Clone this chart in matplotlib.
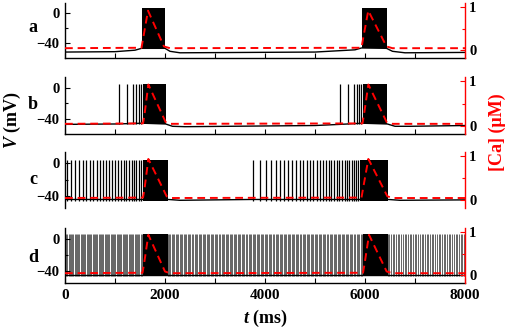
import matplotlib
matplotlib.use('Agg')
import matplotlib.pyplot as plt
import numpy as np

plt.rcParams['font.family'] = ['Liberation Serif', 'DejaVu Serif']
plt.rcParams['font.weight'] = 'bold'
plt.rcParams['mathtext.fontset'] = 'custom'
plt.rcParams['mathtext.rm'] = 'Liberation Serif:bold'
plt.rcParams['mathtext.it'] = 'Liberation Serif:italic:bold'
plt.rcParams['mathtext.bf'] = 'Liberation Serif:bold'

# ----------------------------------------------------------------
# Data (t in ms, V in mV, Ca in uM)
# ----------------------------------------------------------------
panel_names = ['a', 'b', 'c', 'd']

# resting / trough potential between spikes
a_rest_t = [0, 1000, 1400, 1530, 2000, 2100, 2300, 5000, 5800, 5930, 6430, 6550, 6800, 8000]
a_rest_v = [-52, -51.5, -49.5, -47, -47, -51, -53, -52, -49, -46.5, -47, -51, -53, -52.5]
b_rest_t = [0, 1000, 1560, 2013, 2150, 2400, 5000, 5500, 5950, 6447, 6600, 6900, 8000]
b_rest_v = [-47.5, -47, -46, -47, -50, -50.5, -49, -47.5, -46, -47, -50, -50, -49]
c_rest_t = [0, 1560, 2067, 2300, 3700, 5900, 6467, 6700, 8000]
c_rest_v = [-44.5, -44.5, -44.5, -45.5, -44.5, -44.5, -44.5, -45.5, -45]
d_rest_t = [0, 8000]
d_rest_v = [-44.5, -44.5]

# single spikes (times)
a_spikes = []
b_spikes = [1080, 1240, 1360, 1427, 1480, 1520,
            5500, 5653, 5773, 5833, 5887, 5920]
c_spikes = [33, 120, 200, 280, 353, 427, 500, 567, 633, 700, 767, 827, 887, 947,
            1007, 1067, 1120, 1173, 1227, 1280, 1333, 1380, 1427, 1473, 1520,
            3750, 3900, 4020, 4120, 4213, 4300, 4387, 4467, 4547, 4620, 4693,
            4767, 4833, 4900, 4967, 5033, 5093, 5153, 5213, 5273, 5327, 5380,
            5433, 5487, 5540, 5593, 5640, 5687, 5733, 5780, 5820, 5860]
d_spikes = []
# tonic firing in d: (start, end, interspike interval)
d_trains = [(0, 1550, 24), (2050, 5960, 27), (6450, 8000, 34)]

# bursts (start, end)
a_bursts = [(1530, 2000), (5930, 6430)]
b_bursts = [(1567, 2013), (5953, 6447)]
c_bursts = [(1560, 2067), (5895, 6467)]
d_bursts = [(1550, 2050), (5960, 6450)]

spike_peak = [7, 5, 4, 5]
spike_trough = [-46.5, -47.5, -46, -46]

# calcium concentration
a_ca_t = [0, 1530, 1560, 1660, 1980, 2100, 5930, 5960, 6065, 6430, 6550, 8000]
a_ca = [0.04, 0.05, 0.25, 0.92, 0.08, 0.04, 0.05, 0.25, 0.92, 0.08, 0.04, 0.04]
b_ca_t = [0, 1560, 1590, 1667, 2013, 2100, 5950, 5980, 6067, 6433, 6550, 8000]
b_ca = [0.04, 0.05, 0.25, 0.93, 0.08, 0.04, 0.05, 0.25, 0.93, 0.08, 0.04, 0.04]
c_ca_t = [0, 1560, 1590, 1667, 2033, 2120, 5930, 5960, 6067, 6447, 6550, 8000]
c_ca = [0.04, 0.05, 0.25, 0.94, 0.08, 0.04, 0.05, 0.25, 0.94, 0.08, 0.04, 0.04]
d_ca_t = [0, 1550, 1580, 1667, 2000, 2100, 5960, 5990, 6080, 6433, 6550, 8000]
d_ca = [0.04, 0.05, 0.25, 0.94, 0.08, 0.04, 0.05, 0.25, 0.94, 0.08, 0.04, 0.04]

rest_t = [a_rest_t, b_rest_t, c_rest_t, d_rest_t]
rest_v = [a_rest_v, b_rest_v, c_rest_v, d_rest_v]
spikes = [a_spikes, b_spikes, c_spikes, d_spikes]
bursts = [a_bursts, b_bursts, c_bursts, d_bursts]
ca_t = [a_ca_t, b_ca_t, c_ca_t, d_ca_t]
ca_v = [a_ca, b_ca, c_ca, d_ca]
v_lims = [(-60, 14), (-60, 14), (-55, 14), (-55, 13)]

# ----------------------------------------------------------------
# Figure
# ----------------------------------------------------------------
W, H = 509, 330
fig = plt.figure(figsize=(W / 100, H / 100), dpi=100)

left = 65 / W
width = 400 / W
tops_px = [3, 77, 152, 228]
bottoms_px = [58, 134, 208, 283]
letter_y_px = [28, 105, 180, 257]

for i in range(4):
    bot = 1 - bottoms_px[i] / H
    hgt = (bottoms_px[i] - tops_px[i]) / H
    ax = fig.add_axes([left, bot, width, hgt])
    ax2 = ax.twinx()

    # membrane potential
    ax.plot(rest_t[i], rest_v[i], color='black', lw=1.0, zorder=2)
    if spikes[i]:
        ax.vlines(spikes[i], spike_trough[i], spike_peak[i], color='black', lw=0.9, zorder=2)
    if i == 3:
        for (t0, t1, isi) in d_trains:
            ax.vlines(np.arange(t0, t1, isi), spike_trough[i], spike_peak[i],
                      color='black', lw=0.42, zorder=2)
    for (t0, t1) in bursts[i]:
        ax.fill_between([t0, t1], spike_trough[i], spike_peak[i],
                        color='black', lw=0, zorder=3)

    # calcium
    ax2.plot(ca_t[i], ca_v[i], color='red', lw=1.4, ls=(0, (4, 2.5)), zorder=4)

    ax.set_xlim(0, 8000)
    ax.set_ylim(*v_lims[i])
    ax2.set_ylim(-0.19, 1.1)

    ax.set_yticks([-40, 0])
    ax.set_yticks([-20], minor=True)
    ax2.set_yticks([0, 1])
    ax2.set_yticks([0.5], minor=True)
    ax.set_xticks(range(0, 8001, 1000))

    for a_ in (ax, ax2):
        a_.spines['top'].set_visible(False)
    ax.spines['right'].set_visible(False)
    ax2.spines['left'].set_visible(False)
    ax2.spines['bottom'].set_visible(False)
    ax2.spines['right'].set_color('red')
    ax.spines['left'].set_linewidth(1.0)
    ax.spines['bottom'].set_linewidth(1.0)
    ax2.spines['right'].set_linewidth(1.0)

    ax.tick_params(axis='both', which='both', direction='in', labelsize=10.5)
    ax.tick_params(axis='both', which='major', length=3.5, width=0.8)
    ax.tick_params(axis='both', which='minor', length=2, width=0.8)
    ax.tick_params(axis='y', pad=4)
    ax2.tick_params(axis='y', which='both', direction='in', colors='red',
                    labelcolor='black', labelsize=10.5, pad=3, width=0.8)
    ax2.tick_params(axis='y', which='major', length=3.5)
    ax2.tick_params(axis='y', which='minor', length=2)

    for lab in ax.get_yticklabels() + ax2.get_yticklabels():
        lab.set_fontweight('bold')

    if i == 3:
        ax.set_xticklabels(['0', '', '2000', '', '4000', '', '6000', '', '8000'],
                           fontweight='bold', fontsize=11)
        ax.tick_params(axis='x', pad=4)
    else:
        ax.set_xticklabels([])
    if i == 2:
        ax.spines['bottom'].set_visible(False)
        ax.tick_params(axis='x', which='both', length=0)

    fig.text(33 / W, 1 - letter_y_px[i] / H, panel_names[i], fontsize=13,
             fontweight='bold', ha='center', va='center')

fig.text(12 / W, 1 - 120 / H, r'$\it{V}$ (mV)', rotation=90, fontsize=13,
         fontweight='bold', ha='center', va='center')
fig.text(497 / W, 1 - 132 / H, '[Ca] (\u03bcM)', rotation=90, fontsize=13,
         fontweight='bold', color='red', ha='center', va='center')
fig.text(265 / W, 1 - 318 / H, r'$\it{t}$ (ms)', fontsize=13,
         fontweight='bold', ha='center', va='center')

fig.savefig('out.png', dpi=100, facecolor='white')
